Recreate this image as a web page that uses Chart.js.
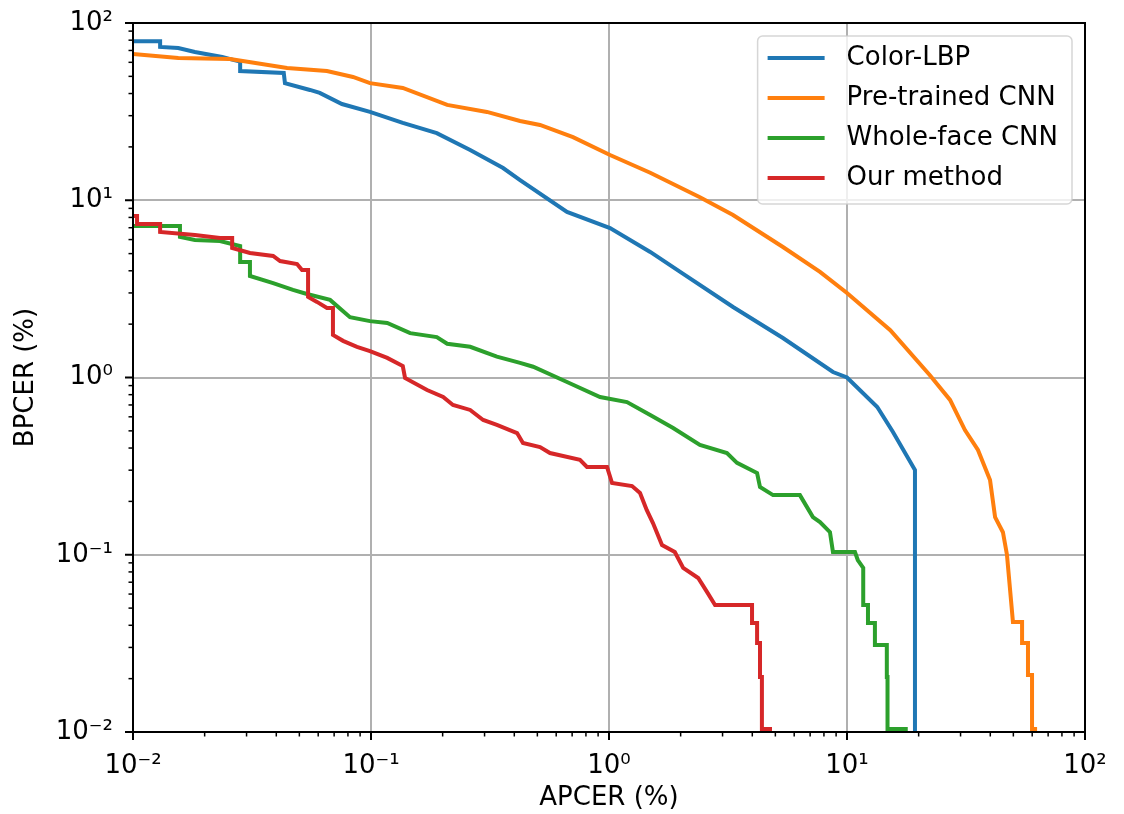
<!DOCTYPE html>
<html>
<head>
<meta charset="utf-8">
<title>DET curves</title>
<script src="https://cdn.jsdelivr.net/npm/chart.js@4.4.0/dist/chart.umd.min.js"></script>
<style>
    html, body { margin: 0; padding: 0; background: #fff; }
</style>
</head>
<body>
<canvas id="det-chart" width="1124" height="814"></canvas>
<script>
// APCER (%) / BPCER (%) pairs
const lbpApcer = [0.01, 0.013, 0.013, 0.0155, 0.0182, 0.0237, 0.0282, 0.0282, 0.043, 0.0435, 0.0554, 0.0609, 0.0755, 0.099, 0.136, 0.189, 0.261, 0.359, 0.423, 0.666, 1.01, 1.49, 2.05, 3.32, 5.38, 8.73, 10.0, 13.4, 15.6, 19.3, 19.3];
const lbpBpcer = [79, 79, 73.3, 72.3, 68.6, 64.3, 60.5, 53.6, 52.2, 45.8, 41.9, 40.3, 34.9, 31.5, 27.3, 23.9, 19.2, 15.2, 13.0, 8.59, 6.97, 5.11, 3.84, 2.50, 1.67, 1.074, 1.0, 0.682, 0.493, 0.301, 0.01];

const pretrainedApcer = [0.01, 0.0155, 0.0256, 0.0444, 0.0653, 0.084, 0.099, 0.136, 0.209, 0.307, 0.423, 0.513, 0.706, 1.01, 1.49, 2.41, 3.32, 5.38, 7.70, 10.0, 15.2, 22.3, 27.1, 31.3, 35.5, 39.9, 41.9, 45.2, 47.0, 49.8, 54.4, 54.4, 57.6, 57.6, 59.9, 59.9, 62.9];
const pretrainedBpcer = [66.8, 63.5, 62.7, 55.7, 53.6, 49.6, 45.8, 43.0, 34.5, 31.5, 28.0, 26.6, 22.7, 18.0, 14.3, 10.4, 8.26, 5.45, 3.94, 3.0, 1.85, 1.03, 0.747, 0.505, 0.39, 0.264, 0.163, 0.134, 0.1, 0.0418, 0.0418, 0.0318, 0.0318, 0.021, 0.021, 0.0104, 0.0104];

const wholeFaceApcer = [0.01, 0.01575, 0.01575, 0.0182, 0.0232, 0.0282, 0.0282, 0.031, 0.031, 0.0388, 0.047, 0.0538, 0.0673, 0.0816, 0.099, 0.117, 0.146, 0.189, 0.209, 0.261, 0.338, 0.423, 0.48, 0.666, 0.917, 1.19, 1.49, 1.86, 2.41, 3.13, 3.45, 4.19, 4.31, 4.89, 6.34, 7.19, 7.70, 8.48, 8.73, 10.8, 11.1, 11.7, 11.7, 12.25, 12.25, 13.1, 13.1, 14.7, 14.7, 14.8, 14.8, 18.0];
const wholeFaceBpcer = [7.16, 7.16, 6.21, 5.97, 5.89, 5.52, 4.48, 4.48, 3.74, 3.41, 3.12, 2.96, 2.74, 2.19, 2.08, 2.03, 1.78, 1.69, 1.55, 1.49, 1.31, 1.21, 1.15, 0.943, 0.776, 0.727, 0.614, 0.519, 0.416, 0.375, 0.33, 0.289, 0.241, 0.217, 0.217, 0.163, 0.153, 0.134, 0.1036, 0.1036, 0.0934, 0.0842, 0.052, 0.052, 0.0412, 0.0412, 0.031, 0.031, 0.0204, 0.0204, 0.0104, 0.0104];

const oursApcer = [0.01, 0.0104, 0.0104, 0.013, 0.013, 0.0182, 0.0232, 0.0261, 0.0261, 0.031, 0.0388, 0.0415, 0.0489, 0.0513, 0.0544, 0.0544, 0.0593, 0.0653, 0.0692, 0.0692, 0.0763, 0.0873, 0.099, 0.117, 0.136, 0.139, 0.172, 0.201, 0.221, 0.261, 0.296, 0.338, 0.411, 0.435, 0.513, 0.565, 0.755, 0.808, 0.981, 1.03, 1.25, 1.35, 1.44, 1.53, 1.67, 1.89, 2.05, 2.37, 2.58, 2.79, 3.99, 3.99, 4.19, 4.19, 4.31, 4.31, 4.39, 4.39, 4.84];
const oursBpcer = [8.15, 8.15, 7.35, 7.35, 6.62, 6.37, 6.12, 6.12, 5.38, 5.04, 4.85, 4.54, 4.37, 4.04, 4.04, 2.85, 2.67, 2.47, 2.47, 1.74, 1.61, 1.49, 1.41, 1.29, 1.16, 0.994, 0.85, 0.776, 0.70, 0.656, 0.576, 0.54, 0.486, 0.427, 0.405, 0.375, 0.343, 0.313, 0.313, 0.254, 0.244, 0.223, 0.179, 0.151, 0.1135, 0.1036, 0.0842, 0.0739, 0.0617, 0.052, 0.052, 0.0412, 0.0412, 0.0318, 0.0318, 0.0204, 0.0204, 0.0104, 0.0104];

const seriesNames = ['Color-LBP', 'Pre-trained CNN', 'Whole-face CNN', 'Our method'];
const seriesColors = ['#1f77b4', '#ff7f0e', '#2ca02c', '#d62728'];

// axis ticks (same for both log axes)
const decadeTicks = [0.01, 0.1, 1, 10, 100];
const decadeLabels = ['10⁻²', '10⁻¹', '10⁰', '10¹', '10²'];
const minorSteps = [2, 3, 4, 5, 6, 7, 8, 9];

const FONT = "'DejaVu Sans', sans-serif";

let allTicks = [];
decadeTicks.forEach((d, i) => {
    allTicks.push(d);
    if (i < decadeTicks.length - 1) {
        minorSteps.forEach(m => allTicks.push(d * m));
    }
});

const isDecade = (v) => decadeTicks.indexOf(v) >= 0;

function toPoints(xs, ys) {
    return xs.map((x, i) => ({x: x, y: ys[i]}));
}

const xs = [lbpApcer, pretrainedApcer, wholeFaceApcer, oursApcer];
const ys = [lbpBpcer, pretrainedBpcer, wholeFaceBpcer, oursBpcer];

// frame, outward tick marks and the in-plot legend (matplotlib look)
const frameAndLegend = {
    id: 'frameAndLegend',
    afterDraw(chart) {
        const ctx = chart.ctx;
        const a = chart.chartArea;
        const sx = chart.scales.x, sy = chart.scales.y;
        ctx.save();
        ctx.strokeStyle = '#000';
        sx.ticks.forEach(t => {
            let px = sx.getPixelForValue(t.value);
            ctx.lineWidth = isDecade(t.value) ? 2 : 1.5;
            ctx.beginPath();
            ctx.moveTo(px, a.bottom);
            ctx.lineTo(px, a.bottom + (isDecade(t.value) ? 8 : 4.5));
            ctx.stroke();
        });
        sy.ticks.forEach(t => {
            let py = sy.getPixelForValue(t.value);
            ctx.lineWidth = isDecade(t.value) ? 2 : 1.5;
            ctx.beginPath();
            ctx.moveTo(a.left, py);
            ctx.lineTo(a.left - (isDecade(t.value) ? 8 : 4.5), py);
            ctx.stroke();
        });
        ctx.lineWidth = 2;
        ctx.strokeRect(a.left, a.top, a.right - a.left, a.bottom - a.top);

        // legend box
        ctx.font = '26px ' + FONT;
        let textW = 0;
        chart.data.datasets.forEach(ds => { textW = Math.max(textW, ctx.measureText(ds.label).width); });
        const rowH = 40, padL = 10, lineLen = 57, gap = 22, padR = 14;
        const w = padL + lineLen + gap + textW + padR;
        const h = rowH * chart.data.datasets.length + 8;
        const bx = a.right - 13 - w, by = a.top + 13, r = 5;
        ctx.beginPath();
        ctx.moveTo(bx + r, by);
        ctx.arcTo(bx + w, by, bx + w, by + h, r);
        ctx.arcTo(bx + w, by + h, bx, by + h, r);
        ctx.arcTo(bx, by + h, bx, by, r);
        ctx.arcTo(bx, by, bx + w, by, r);
        ctx.closePath();
        ctx.fillStyle = 'rgba(255,255,255,0.8)';
        ctx.fill();
        ctx.strokeStyle = 'rgba(204,204,204,0.8)';
        ctx.lineWidth = 1.5;
        ctx.stroke();

        ctx.textBaseline = 'middle';
        ctx.textAlign = 'left';
        chart.data.datasets.forEach((ds, i) => {
            const ry = by + 22 + i * rowH;
            ctx.strokeStyle = ds.borderColor;
            ctx.lineWidth = 4;
            ctx.beginPath();
            ctx.moveTo(bx + padL, ry);
            ctx.lineTo(bx + padL + lineLen, ry);
            ctx.stroke();
            ctx.fillStyle = '#000';
            ctx.fillText(ds.label, bx + padL + lineLen + gap, ry);
        });
        ctx.restore();
    }
};

function logAxis(titleText, isX) {
    return {
        type: 'logarithmic',
        min: 0.01,
        max: 100,
        afterBuildTicks: (scale) => {
            scale.ticks = allTicks.map(v => ({value: v, major: isDecade(v)}));
        },
        afterFit: (scale) => {
            // fixed axis box so the plot area lands where the original one is
            if (isX) {
                scale.height = 82;
            } else {
                scale.width = 133;
            }
            scale.paddingTop = 0;
            scale.paddingBottom = 0;
            scale.paddingLeft = 0;
            scale.paddingRight = 0;
        },
        ticks: {
            autoSkip: false,
            maxRotation: 0,
            padding: isX ? 19 : 20,
            color: '#000',
            font: {family: FONT, size: 26},
            callback: (value) => {
                let k = decadeTicks.indexOf(value);
                return k >= 0 ? decadeLabels[k] : '';
            }
        },
        grid: {
            drawTicks: false,
            lineWidth: 2,
            color: (c) => (c.tick && isDecade(c.tick.value)) ? '#b0b0b0' : 'rgba(0,0,0,0)'
        },
        border: {display: false},
        title: {
            display: true,
            text: titleText,
            color: '#000',
            font: {family: FONT, size: 26},
            padding: isX ? {top: 0, bottom: 0} : {top: 11, bottom: 0}
        }
    };
}

new Chart(document.getElementById('det-chart'), {
    type: 'line',
    data: {
        datasets: seriesNames.map((name, i) => ({
            label: name,
            data: toPoints(xs[i], ys[i]),
            borderColor: seriesColors[i],
            backgroundColor: seriesColors[i],
            borderWidth: 4,
            pointRadius: 0,
            tension: 0,
            fill: false,
            order: seriesNames.length - i
        }))
    },
    options: {
        responsive: false,
        animation: false,
        devicePixelRatio: 1,
        layout: {padding: {top: 23, right: 39, left: 0, bottom: 0}},
        plugins: {
            legend: {display: false},
            tooltip: {enabled: false}
        },
        scales: {
            x: logAxis('APCER (%)', true),
            y: logAxis('BPCER (%)', false)
        }
    },
    plugins: [frameAndLegend]
});
</script>
</body>
</html>
